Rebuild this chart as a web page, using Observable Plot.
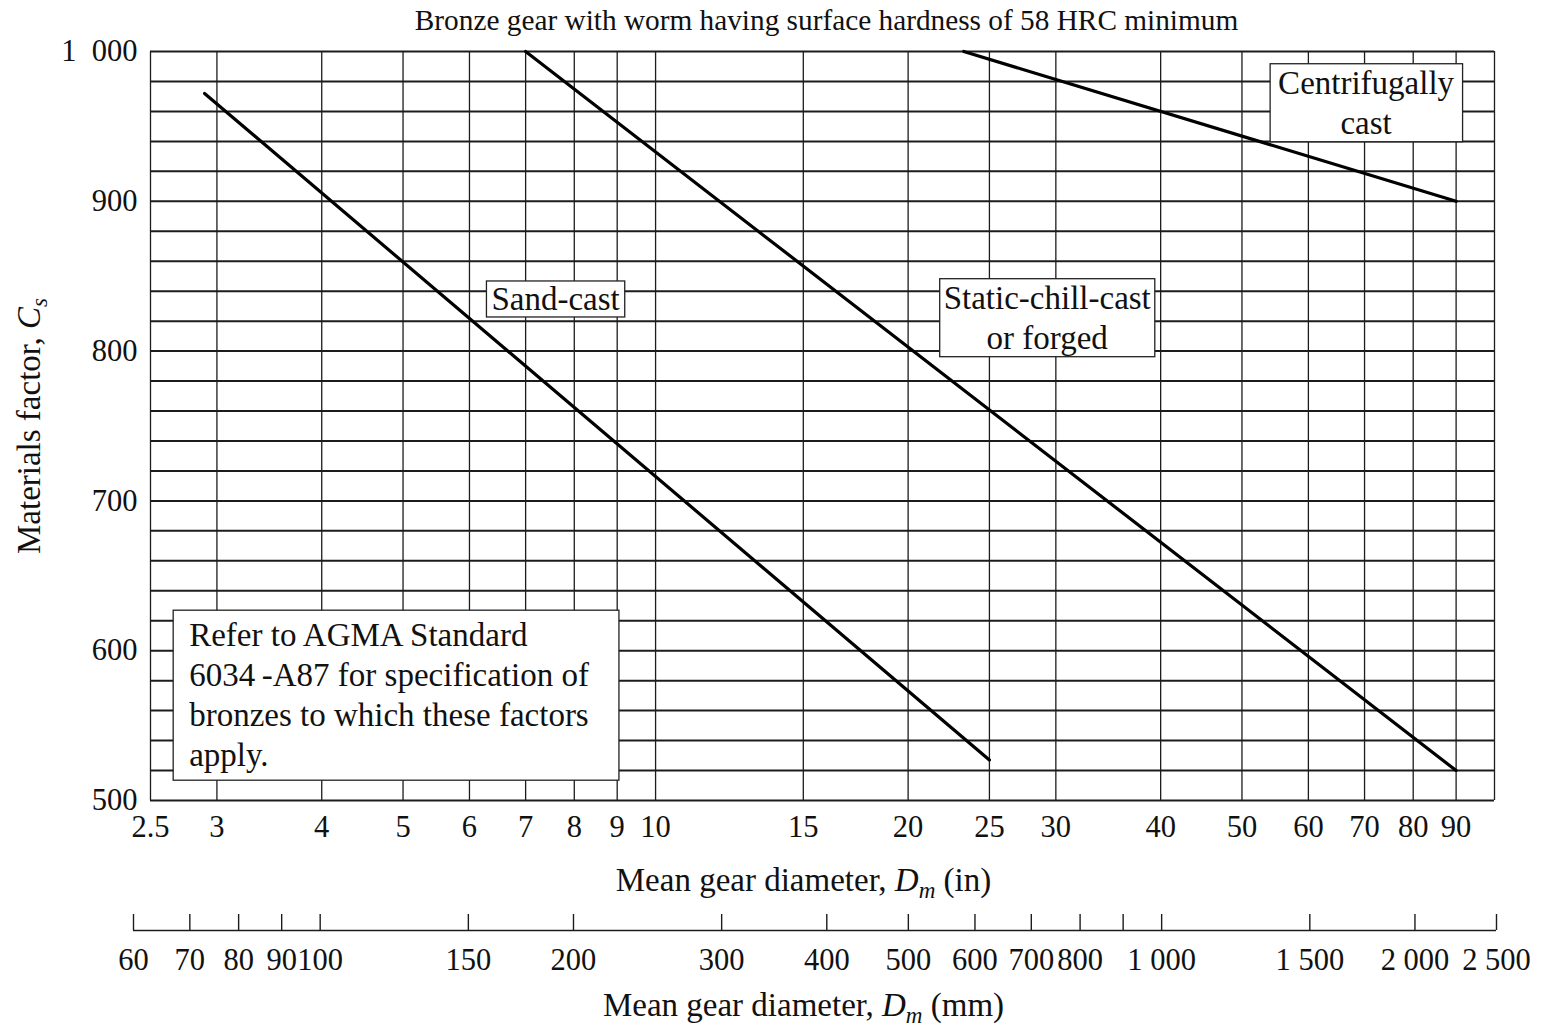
<!DOCTYPE html>
<html>
<head>
<meta charset="utf-8">
<script src="https://cdn.jsdelivr.net/npm/d3@7"></script>
<script src="https://cdn.jsdelivr.net/npm/@observablehq/plot@0.6"></script>
<style>
  html, body { margin: 0; padding: 0; background: #fff; }
  #chart { width: 1541px; }
  #chart svg { display: block; }
</style>
</head>
<body>
<div id="chart"></div>
<script>
// ---------- data ----------
const chartTitle = "Bronze gear with worm having surface hardness of 58 HRC minimum";
const yTitle = "Materials factor, C_s";
const xTitleIn = "Mean gear diameter, D_m (in)";
const xTitleMm = "Mean gear diameter, D_m (mm)";

const seriesNames = ["Sand-cast", "Static-chill-cast", "Centrifugally cast"];
const sandD = [2.9, 25];      const sandCs = [972, 527];
const chillD = [7.0, 90];     const chillCs = [1000, 520];
const centD = [23.3, 90];     const centCs = [1000, 900];

const xTickValues = [2.5, 3, 4, 5, 6, 7, 8, 9, 10, 15, 20, 25, 30, 40, 50, 60, 70, 80, 90];
const xTickLabels = ["2.5", "3", "4", "5", "6", "7", "8", "9", "10", "15", "20", "25", "30", "40", "50", "60", "70", "80", "90"];
const xGridValues = [2.5, 3, 4, 5, 6, 7, 8, 9, 10, 15, 20, 25, 30, 40, 50, 60, 70, 80, 90, 100];
const yTickValues = [500, 600, 700, 800, 900, 1000];
const yTickLabels = ["500", "600", "700", "800", "900", "1\u2002000"];
const yGridValues = [500, 520, 540, 560, 580, 600, 620, 640, 660, 680, 700, 720, 740, 760, 780, 800, 820, 840, 860, 880, 900, 920, 940, 960, 980, 1000];

const mmTickValues = [60, 70, 80, 90, 100, 150, 200, 300, 400, 500, 600, 700, 800, 900, 1000, 1500, 2000, 2500];
const mmTickLabels = ["60", "70", "80", "90", "100", "150", "200", "300", "400", "500", "600", "700", "800", "", "1 000", "1 500", "2 000", "2 500"];

const noteCenteredLabels = ["Sand-cast", "Static-chill-cast\nor forged", "Centrifugally\ncast"];
const noteCenteredD = [7.6, 29.3, 70.3];
const noteCenteredCs = [836, 823.5, 967];
const noteLeftLabels = ["Refer to AGMA Standard\n6034\u2009-A87 for specification of\nbronzes to which these factors\napply."];
const noteLeftD = [2.78];
const noteLeftCs = [571.5];

// ---------- tables built from arrays ----------
const rows = [
  ...sandD.map((d, i) => ({series: seriesNames[0], D: d, Cs: sandCs[i]})),
  ...chillD.map((d, i) => ({series: seriesNames[1], D: d, Cs: chillCs[i]})),
  ...centD.map((d, i) => ({series: seriesNames[2], D: d, Cs: centCs[i]}))
];
const xTicks = xTickValues.map((v, i) => ({v, label: xTickLabels[i]}));
const yTicks = yTickValues.map((v, i) => ({v, label: yTickLabels[i]}));
const mmTicks = mmTickValues.map((v, i) => ({v, label: mmTickLabels[i]}));
const notesC = noteCenteredLabels.map((t, i) => ({label: t, D: noteCenteredD[i], Cs: noteCenteredCs[i]}));
const notesL = noteLeftLabels.map((t, i) => ({label: t, D: noteLeftD[i], Cs: noteLeftCs[i]}));

const FONT = "'Liberation Serif', 'Times New Roman', Times, serif";
const INK = "#111";

const main = Plot.plot({
  width: 1541, height: 905,
  marginTop: 51, marginBottom: 105, marginLeft: 150, marginRight: 47,
  style: {fontFamily: FONT, background: "#fff", color: INK, overflow: "visible"},
  x: {type: "log", domain: [2.5, 100], axis: null},
  y: {domain: [500, 1000], axis: null},
  marks: [
    Plot.ruleX(xGridValues, {stroke: "#1c1c1c", strokeWidth: 1.3}),
    Plot.ruleY(yGridValues, {stroke: "#1c1c1c", strokeWidth: 2}),
    Plot.line(rows, {x: "D", y: "Cs", z: "series", stroke: "#000", strokeWidth: 3.2}),
    Plot.text(xTicks, {x: "v", text: "label", frameAnchor: "bottom", lineAnchor: "middle", dy: 27, fontSize: 30.5, fill: INK}),
    Plot.text(yTicks, {y: "v", text: "label", frameAnchor: "left", lineAnchor: "middle", dx: -13, textAnchor: "end", fontSize: 30.5, fill: INK}),
    Plot.text([chartTitle], {text: d => d, frameAnchor: "top", lineAnchor: "middle", dy: -31, dx: 4, fontSize: 29.3, fill: INK}),
    Plot.text([yTitle], {text: d => d, frameAnchor: "left", textAnchor: "middle", lineAnchor: "middle", dx: -121, rotate: -90, fontSize: 33, fill: INK}),
    Plot.text([xTitleIn], {text: d => d, frameAnchor: "bottom", lineAnchor: "middle", dx: -19, dy: 80, fontSize: 33, fill: INK}),
    Plot.text(notesC, {x: "D", y: "Cs", text: "label", fontSize: 33, lineHeight: 40 / 33, fill: INK}),
    Plot.text(notesL, {x: "D", y: "Cs", text: "label", textAnchor: "start", fontSize: 33, lineHeight: 40 / 33, fill: INK})
  ]
});

const mm = Plot.plot({
  width: 1541, height: 122,
  marginTop: 9, marginBottom: 97, marginLeft: 150, marginRight: 47,
  style: {fontFamily: FONT, background: "#fff", color: INK, overflow: "visible"},
  x: {type: "log", domain: [60, 2500], range: [133, 1496], axis: null},
  y: {domain: [0, 1], axis: null},
  marks: [
    Plot.ruleY([{y: 0, a: mmTickValues[0], b: mmTickValues[mmTickValues.length - 1]}], {y: "y", x1: "a", x2: "b", stroke: "#1c1c1c", strokeWidth: 1.6}),
    Plot.tickX(mmTicks, {x: "v", stroke: "#1c1c1c", strokeWidth: 1.4}),
    Plot.text(mmTicks, {x: "v", text: "label", frameAnchor: "bottom", lineAnchor: "middle", dy: 30, fontSize: 30.5, fill: INK}),
    Plot.text([xTitleMm], {text: d => d, frameAnchor: "bottom", lineAnchor: "middle", dx: -19, dy: 75, fontSize: 33, fill: INK})
  ]
});

const host = document.getElementById("chart");
host.appendChild(main);
host.appendChild(mm);

// Italic symbol with subscript for the axis titles (D_m, C_s)
function richify(svg) {
  svg.querySelectorAll("text").forEach(t => {
    const s = t.textContent;
    const m = s.match(/^(.*?)([A-Z])_([a-z])(.*)$/);
    if (!m || t.querySelector("tspan")) return;
    t.textContent = "";
    const ns = "http://www.w3.org/2000/svg";
    const add = (str, opts = {}) => {
      const sp = document.createElementNS(ns, "tspan");
      sp.textContent = str;
      for (const k in opts) sp.setAttribute(k, opts[k]);
      t.appendChild(sp);
    };
    add(m[1]);
    add(m[2], {"font-style": "italic"});
    add(m[3], {"font-style": "italic", "font-size": "70%", dy: "7"});
    if (m[4]) add(m[4], {dy: "-7"});
  });
}
richify(main);
richify(mm);

// White boxes with a thin border behind annotation texts
const pads = {
  "Sand-cast": [5, 5, 0, 0],
  "Static-chill-cast": [4, 4, 1, 1],
  "Centrifugally": [8, 8, 1, 1],
  "Refer to AGMA Standard": [16, 30, 7, 7]
};
main.querySelectorAll("text").forEach(t => {
  const first = t.querySelector("tspan") ? t.querySelector("tspan").textContent : t.textContent;
  const p = pads[first];
  if (!p) return;
  const b = t.getBBox();
  const r = document.createElementNS("http://www.w3.org/2000/svg", "rect");
  r.setAttribute("x", b.x - p[0]);
  r.setAttribute("y", b.y - p[2]);
  r.setAttribute("width", b.width + p[0] + p[1]);
  r.setAttribute("height", b.height + p[2] + p[3]);
  r.setAttribute("fill", "#fff");
  r.setAttribute("stroke", "#222");
  r.setAttribute("stroke-width", "1.3");
  if (t.getAttribute("transform")) r.setAttribute("transform", t.getAttribute("transform"));
  t.parentNode.insertBefore(r, t);
});
</script>
</body>
</html>
